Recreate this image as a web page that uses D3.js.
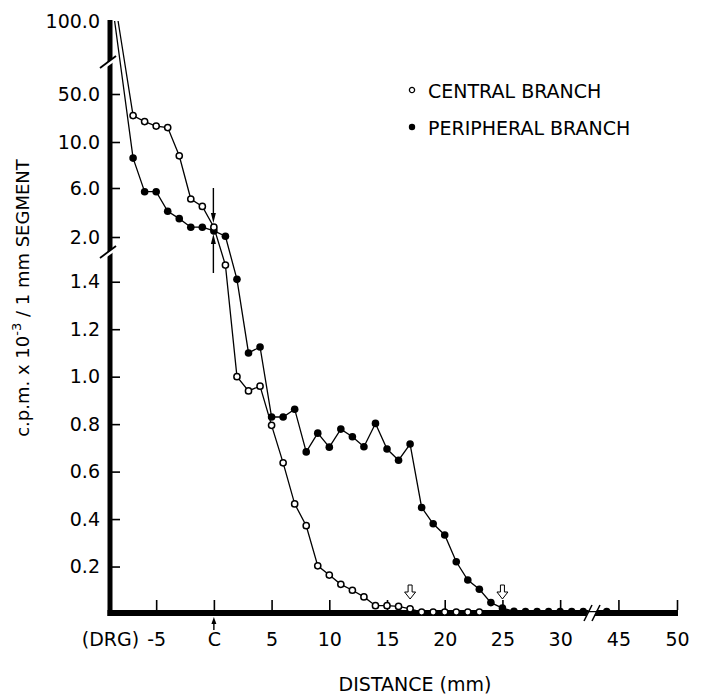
<!DOCTYPE html>
<html>
<head>
<meta charset="utf-8">
<script src="https://cdn.jsdelivr.net/npm/d3@7/dist/d3.min.js"></script>
<style>
  body { margin: 0; background: #fff; }
  svg { display: block; }
  text { font-family: "DejaVu Sans", sans-serif; fill: #000; }
</style>
</head>
<body>
<svg id="chart" width="702" height="694"></svg>
<script>
// distance along the nerve (mm), DRG side is negative
const centralDist = [-8.3, -7, -6, -5, -4, -3, -2, -1, 0, 1, 2, 3, 4, 5, 6, 7, 8, 9, 10,
  11, 12, 13, 14, 15, 16, 17, 18, 19, 20, 21, 22, 23];
const centralCpm = [100, 32, 27, 23.3, 22, 8.8, 5.1, 4.5, 2.8, 1.47, 1.0, 0.94, 0.96, 0.795,
  0.637, 0.464, 0.372, 0.203, 0.164, 0.125, 0.10, 0.072, 0.035, 0.035, 0.032, 0.022,
  0.008, 0.008, 0.008, 0.008, 0.008, 0.008];

const peripheralDist = [-8.6, -7, -6, -5, -4, -3, -2, -1, 0, 1, 2, 3, 4, 5, 6, 7, 8, 9, 10,
  11, 12, 13, 14, 15, 16, 17, 18, 19, 20, 21, 22, 23, 24, 25, 26, 27, 28, 29, 30, 31, 32, 44];
const peripheralCpm = [100, 8.6, 5.7, 5.7, 4.1, 3.5, 2.8, 2.8, 2.5, 2.06, 1.41, 1.10, 1.125,
  0.83, 0.83, 0.863, 0.683, 0.762, 0.703, 0.779, 0.747, 0.705, 0.803, 0.695, 0.648, 0.716,
  0.449, 0.380, 0.333, 0.22, 0.143, 0.104, 0.048, 0.025, 0.011, 0.01, 0.01, 0.01, 0.01,
  0.01, 0.01, 0.01, 0.007];

const yTickValues = [0.2, 0.4, 0.6, 0.8, 1.0, 1.2, 1.4, 2, 6, 10, 50, 100];
const yTickLabels = ['0.2', '0.4', '0.6', '0.8', '1.0', '1.2', '1.4', '2.0', '6.0', '10.0', '50.0', '100.0'];
const xTickValues = [-9, -5, 0, 5, 10, 15, 20, 25, 30, 45, 50];
const xTickLabels = ['(DRG)', '-5', 'C', '5', '10', '15', '20', '25', '30', '45', '50'];

// hollow arrows marking the front of each branch
const frontDist = [17, 25];

const seriesNames = ['CENTRAL BRANCH', 'PERIPHERAL BRANCH'];

const offScale = 100; // DRG value runs off the top, drawn without a marker

const svg = d3.select('#chart');
const axisX0 = 110, axisY0 = 613;
const font = '"DejaVu Sans", sans-serif';

// broken scales: x jumps from ~33 to 43 mm, y is linear below 1.5 and stepped above
const x = d3.scaleLinear()
  .domain([-9, 32.5, 43, 50])
  .range([axisX0, 589, 595, 677]);

const y = d3.scaleLinear()
  .domain([0, 1.5, 2, 6, 10, 50, 100])
  .range([614, 258, 237, 188, 142, 94, 21]);

// y axis
const yAxis = d3.axisLeft(y)
  .tickValues(yTickValues)
  .tickFormat(function (d, i) { return yTickLabels[i]; })
  .tickSize(-10)
  .tickPadding(10);

const gy = svg.append('g')
  .attr('transform', 'translate(' + axisX0 + ',0)')
  .call(yAxis);
gy.select('.domain').remove();
gy.selectAll('.tick line').attr('stroke-width', 1.6)
  .attr('display', function (d) { return d === 100 ? 'none' : null; });
gy.selectAll('.tick text').attr('font-size', 19).attr('font-family', font);

// x axis
const xAxis = d3.axisBottom(x)
  .tickValues(xTickValues)
  .tickFormat(function (d, i) { return xTickLabels[i]; })
  .tickSize(-10)
  .tickPadding(20);

const gx = svg.append('g')
  .attr('transform', 'translate(0,' + axisY0 + ')')
  .call(xAxis);
gx.select('.domain').remove();
gx.selectAll('.tick line').attr('stroke-width', 1.6)
  .attr('transform', 'translate(0,-3)');
gx.selectAll('.tick text').attr('font-size', 19).attr('font-family', font);

// heavy axis bars
svg.append('line')
  .attr('x1', axisX0).attr('x2', axisX0)
  .attr('y1', 20).attr('y2', axisY0 + 3)
  .attr('stroke', '#000').attr('stroke-width', 5);
svg.append('line')
  .attr('x1', axisX0 - 2.5).attr('x2', x(50) + 1)
  .attr('y1', axisY0).attr('y2', axisY0)
  .attr('stroke', '#000').attr('stroke-width', 6);

// axis breaks
function yBreak(cy) {
  svg.append('path')
    .attr('d', 'M104,' + (cy + 5) + 'L118,' + (cy - 5) + 'L118,' + (cy - 1) + 'L104,' + (cy + 9) + 'Z')
    .attr('fill', '#fff');
  svg.append('line')
    .attr('x1', 100).attr('y1', cy + 8).attr('x2', 116).attr('y2', cy - 4)
    .attr('stroke', '#000').attr('stroke-width', 1.8);
}
yBreak(60);
yBreak(250);

const bx = (x(32.5) + x(43)) / 2;
svg.append('path')
  .attr('d', 'M' + (bx - 8) + ',' + (axisY0 + 8) + 'L' + (bx - 1) + ',' + (axisY0 - 8) +
    'L' + (bx + 7) + ',' + (axisY0 - 8) + 'L' + (bx) + ',' + (axisY0 + 8) + 'Z')
  .attr('fill', '#fff');
[-4, 4].forEach(function (o) {
  svg.append('line')
    .attr('x1', bx + o - 4).attr('y1', axisY0 + 8)
    .attr('x2', bx + o + 4).attr('y2', axisY0 - 8)
    .attr('stroke', '#000').attr('stroke-width', 1.5);
});

// series
const central = d3.zip(centralDist, centralCpm);
const peripheral = d3.zip(peripheralDist, peripheralCpm);

const line = d3.line()
  .x(function (d) { return x(d[0]); })
  .y(function (d) { return y(d[1]); });

[central, peripheral].forEach(function (s) {
  svg.append('path')
    .datum(s)
    .attr('d', line)
    .attr('fill', 'none')
    .attr('stroke', '#000')
    .attr('stroke-width', 1.3);
});

svg.append('g').selectAll('circle')
  .data(peripheral.filter(function (d) { return d[1] < offScale; }))
  .enter().append('circle')
  .attr('cx', function (d) { return x(d[0]); })
  .attr('cy', function (d) { return y(d[1]); })
  .attr('r', 3.8)
  .attr('fill', '#000');

svg.append('g').selectAll('circle')
  .data(central.filter(function (d) { return d[1] < offScale; }))
  .enter().append('circle')
  .attr('cx', function (d) { return x(d[0]); })
  .attr('cy', function (d) { return y(d[1]); })
  .attr('r', 3.1)
  .attr('fill', '#fff')
  .attr('stroke', '#000')
  .attr('stroke-width', 1.5);

// arrows at the crossing point (C)
function solidArrow(ax, tail, tip, w, h) {
  const dir = tip > tail ? 1 : -1;
  svg.append('line')
    .attr('x1', ax).attr('x2', ax)
    .attr('y1', tail).attr('y2', tip - dir * h)
    .attr('stroke', '#000').attr('stroke-width', 1.4);
  svg.append('path')
    .attr('d', 'M' + (ax - w / 2) + ',' + (tip - dir * h) + 'L' + ax + ',' + tip +
      'L' + (ax + w / 2) + ',' + (tip - dir * h) + 'Z')
    .attr('fill', '#000');
}
solidArrow(x(0) - 0.5, 188, 223, 5, 10);
solidArrow(x(0) - 0.5, 273, 234, 5, 10);
solidArrow(x(0), 630, 617, 5, 7);

// hollow arrows at the fronts
svg.append('g').selectAll('path')
  .data(frontDist)
  .enter().append('path')
  .attr('transform', function (d) { return 'translate(' + x(d) + ',585)'; })
  .attr('d', 'M-2,0L2,0L2,7L5.5,7L0,14L-5.5,7L-2,7Z')
  .attr('fill', '#fff')
  .attr('stroke', '#000')
  .attr('stroke-width', 1);

// legend
const legend = svg.append('g').attr('transform', 'translate(412,90)');
legend.selectAll('circle')
  .data(seriesNames)
  .enter().append('circle')
  .attr('cx', 0)
  .attr('cy', function (d, i) { return i * 37; })
  .attr('r', function (d, i) { return i ? 3.2 : 2.6; })
  .attr('fill', function (d, i) { return i ? '#000' : '#fff'; })
  .attr('stroke', '#000')
  .attr('stroke-width', function (d, i) { return i ? 0 : 1.3; });
legend.selectAll('text')
  .data(seriesNames)
  .enter().append('text')
  .attr('x', 16)
  .attr('y', function (d, i) { return i * 37 + 7.5; })
  .attr('font-size', 19)
  .text(function (d) { return d; });

// axis titles
svg.append('text')
  .attr('x', 415)
  .attr('y', 691)
  .attr('text-anchor', 'middle')
  .attr('font-size', 19)
  .text('DISTANCE (mm)');

const yTitle = svg.append('text')
  .attr('transform', 'translate(29,298) rotate(-90)')
  .attr('text-anchor', 'middle')
  .attr('font-size', 18);
yTitle.append('tspan').text('c.p.m. x 10');
yTitle.append('tspan').attr('dy', -8).attr('font-size', 13).text('-3');
yTitle.append('tspan').attr('dy', 8).text(' / 1 mm SEGMENT');
</script>
</body>
</html>
